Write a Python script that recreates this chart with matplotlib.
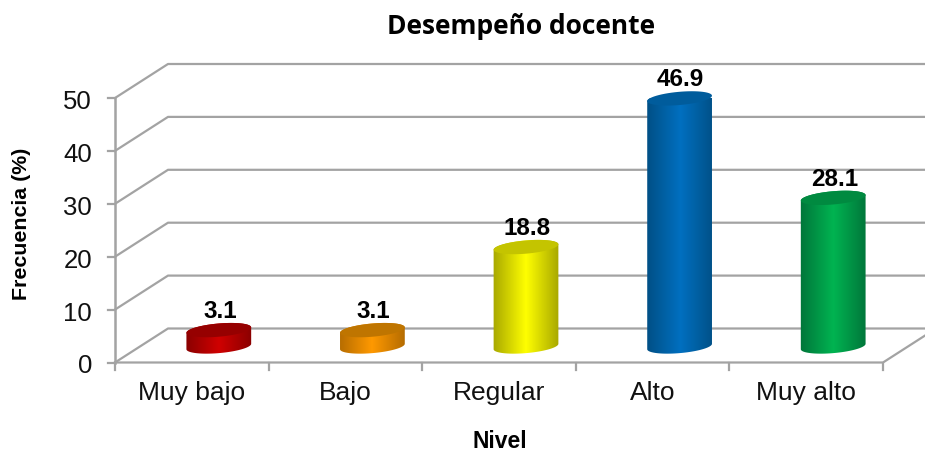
import matplotlib
matplotlib.use('Agg')
import matplotlib.pyplot as plt
import numpy as np
from matplotlib.colors import LinearSegmentedColormap
from matplotlib.patches import Polygon

categories = ['Muy bajo', 'Bajo', 'Regular', 'Alto', 'Muy alto']
values = [3.1, 3.1, 18.8, 46.9, 28.1]
labels = ['3.1', '3.1', '18.8', '46.9', '28.1']
yticks = [0, 10, 20, 30, 40, 50]
dark = ['#8a0000', '#b56c00', '#a8a800', '#004f86', '#00753a']
bright = ['#d00000', '#ff9900', '#ffff00', '#0070c0', '#00b451']
tops = ['#960000', '#bf7500', '#c4c400', '#005c9c', '#008a40']
grid_col = '#a3a3a3'

W, H = 925, 452
fig = plt.figure(figsize=(W / 100, H / 100), dpi=100)
# front plane of the 3d box, in pixels: x 115-883, y 99-363
ax = fig.add_axes([115 / W, 1 - 363.5 / H, 768 / W, 264.5 / H])
ax.set_xlim(0, 5)
ax.set_ylim(0, 50)
ax.axis('off')

px = 5 / 768
py = 50 / 264.5
depth_x = 53 * px
depth_y = 34 * py

# side wall and back wall lines
for v in yticks:
    ax.plot([0, depth_x, 810 * px + depth_x], [v, v + depth_y, v + depth_y],
            color=grid_col, lw=1.6, clip_on=False, zorder=1)
    ax.plot([-7 * px, 0], [v, v], color=grid_col, lw=1.6, clip_on=False, zorder=1)
ax.plot([0, 0], [0, 50], color=grid_col, lw=1.8, clip_on=False, zorder=2)
ax.plot([0, 5, 5 + depth_x], [0, 0, depth_y], color=grid_col, lw=1.6, clip_on=False, zorder=2)
for i in range(6):
    ax.plot([i, i], [0, -7 * py], color=grid_col, lw=1.6, clip_on=False, zorder=2)


def ellipse(cx, cy, start, stop):
    t = np.radians(np.linspace(start, stop, 60))
    a, b, tilt = 32.5, 6.6, np.radians(5)
    ex = a * np.cos(t) * np.cos(tilt) - b * np.sin(t) * np.sin(tilt)
    ey = a * np.cos(t) * np.sin(tilt) + b * np.sin(t) * np.cos(tilt)
    return np.column_stack([cx + ex * px, cy + ey * py])


for i, v in enumerate(values):
    cx = i + 0.5 + 27 * px
    cy0 = 16 * py
    cy1 = v + cy0
    body = np.vstack([ellipse(cx, cy0, 180, 360), ellipse(cx, cy1, 0, 180)])
    cmap = LinearSegmentedColormap.from_list('c', [dark[i], bright[i], dark[i]])
    grad = np.linspace(0, 1, 128).reshape(1, -1)
    im = ax.imshow(grad, cmap=cmap, aspect='auto', zorder=3 + i, clip_on=True,
                   extent=[cx - 33 * px, cx + 33 * px, 0, cy1 + 10 * py])
    im.set_clip_path(Polygon(body, transform=ax.transData))
    ax.add_patch(Polygon(ellipse(cx, cy1, 0, 360), closed=True, fc=tops[i], ec='none',
                         zorder=3 + i, clip_on=False))
    ax.text(cx + 1 * px, cy1 + 8 * py, labels[i], ha='center', va='bottom', fontsize=17.5,
            fontweight='bold', family='Liberation Sans', color='black', zorder=10)
    ax.text(i + 0.5, -30 * py, categories[i], ha='center', va='center', fontsize=19,
            family='Liberation Sans', color='#111111')

ax.set_xlim(0, 5)
ax.set_ylim(0, 50)

for v in yticks:
    ax.text(-23 * px, v - 3 * py, str(v), ha='right', va='center', fontsize=18.5,
            family='Liberation Sans', color='#111111')

fig.text(521 / W, 1 - 26 / H, 'Desempeño docente', ha='center', va='center', fontsize=19,
         fontweight='bold', family='Open Sans')
fig.text(22 / W, 1 - 224 / H, 'Frecuencia (%)', rotation=90, ha='center', va='center',
         fontsize=15.4, fontweight='bold', family='Liberation Sans')
fig.text(500 / W, 1 - 442 / H, 'Nivel', ha='center', va='center', fontsize=16.5,
         fontweight='bold', family='Liberation Sans')

fig.savefig('out.png', dpi=100)
